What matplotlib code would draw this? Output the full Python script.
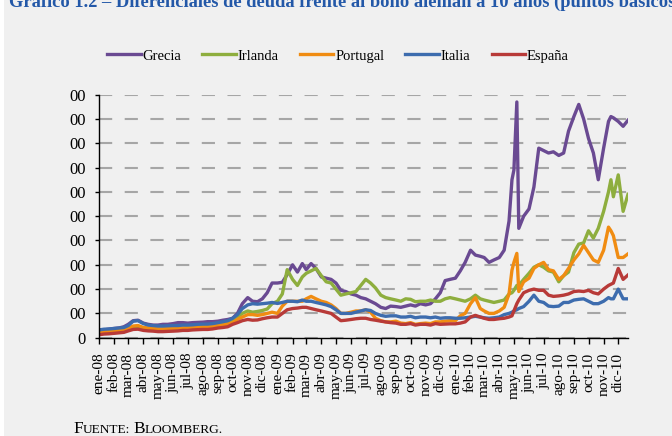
import matplotlib
matplotlib.use('Agg')
import matplotlib.pyplot as plt
import pandas as pd

plt.rcParams['font.family'] = ['Liberation Serif', 'DejaVu Serif']
plt.rcParams['lines.scale_dashes'] = False

# fechas de lectura (1, 11 y 21 de cada mes, más algunos días sueltos en 2010)
fechas_2008 = ('2008-01-01 2008-01-11 2008-01-21 2008-02-01 2008-02-11 2008-02-21 '
               '2008-03-01 2008-03-11 2008-03-21 2008-04-01 2008-04-11 2008-04-21 '
               '2008-05-01 2008-05-11 2008-05-21 2008-06-01 2008-06-11 2008-06-21 '
               '2008-07-01 2008-07-11 2008-07-21 2008-08-01 2008-08-11 2008-08-21 '
               '2008-09-01 2008-09-11 2008-09-21 2008-10-01 2008-10-11 2008-10-21 '
               '2008-11-01 2008-11-11 2008-11-21 2008-12-01 2008-12-11 2008-12-21').split()
fechas_2009 = ('2009-01-01 2009-01-11 2009-01-21 2009-02-01 2009-02-11 2009-02-21 '
               '2009-03-01 2009-03-11 2009-03-21 2009-04-01 2009-04-11 2009-04-21 '
               '2009-05-01 2009-05-11 2009-05-21 2009-06-01 2009-06-11 2009-06-21 '
               '2009-07-01 2009-07-11 2009-07-21 2009-08-01 2009-08-11 2009-08-21 '
               '2009-09-01 2009-09-11 2009-09-21 2009-10-01 2009-10-11 2009-10-21 '
               '2009-11-01 2009-11-11 2009-11-21 2009-12-01 2009-12-11 2009-12-21').split()
fechas_2010 = ('2010-01-01 2010-01-11 2010-01-21 2010-02-01 2010-02-11 2010-02-21 '
               '2010-03-01 2010-03-11 2010-03-21 2010-04-01 2010-04-11 2010-04-21 2010-04-27 '
               '2010-05-01 2010-05-07 2010-05-11 2010-05-21 2010-06-01 2010-06-11 2010-06-21 '
               '2010-07-01 2010-07-11 2010-07-21 2010-08-01 2010-08-11 2010-08-21 '
               '2010-09-01 2010-09-11 2010-09-21 2010-10-01 2010-10-11 2010-10-21 '
               '2010-11-01 2010-11-11 2010-11-16 2010-11-21 2010-12-01 2010-12-11 2010-12-21').split()

grecia = [30, 32, 35, 38, 40, 45, 55, 70, 72, 60, 55, 52, 52, 55, 55, 58, 62, 62,
          60, 62, 63, 64, 66, 66, 68, 72, 75, 80, 100, 140, 165, 150, 148, 160, 185, 225,
          225, 228, 260, 300, 270, 305, 280, 305, 285, 250, 245, 240, 225, 195, 190, 180, 175, 165,
          160, 150, 140, 125, 120, 130, 128, 125, 130, 135, 130, 140, 135, 140, 160, 185, 235, 240,
          245, 275, 310, 360, 340, 335, 330, 310, 320, 330, 360, 480, 650,
          690, 970, 450, 500, 530, 620, 780, 770, 760, 765, 750, 760, 850,
          910, 960, 900, 820, 760, 650, 780, 890, 910, 905, 890, 870, 895]
irlanda = [20, 22, 24, 26, 28, 30, 36, 45, 46, 40, 38, 36, 35, 36, 37, 38, 40, 40,
           42, 42, 44, 46, 48, 48, 52, 58, 62, 70, 85, 100, 110, 105, 108, 112, 118, 140,
           150, 180, 280, 240, 215, 250, 265, 275, 285, 255, 230, 225, 200, 175, 180, 185, 190, 215,
           240, 225, 205, 175, 165, 160, 155, 150, 160, 158, 148, 150, 150, 155, 150, 150, 160, 165,
           160, 155, 150, 160, 175, 160, 155, 150, 145, 150, 155, 180, 185,
           195, 215, 215, 240, 265, 290, 300, 290, 275, 270, 230, 255, 270,
           350, 385, 390, 440, 410, 450, 520, 600, 650, 580, 670, 520, 590]
portugal = [22, 25, 27, 28, 30, 32, 38, 48, 50, 42, 40, 38, 36, 36, 38, 38, 40, 40,
            40, 42, 42, 44, 45, 46, 50, 52, 56, 62, 75, 85, 95, 95, 92, 95, 100, 105,
            100, 130, 150, 150, 150, 150, 160, 170, 160, 150, 145, 135, 120, 100, 100, 105, 110, 110,
            115, 105, 80, 70, 65, 65, 68, 60, 58, 62, 55, 58, 60, 58, 65, 65, 68, 70,
            70, 90, 100, 140, 165, 120, 110, 100, 100, 110, 125, 180, 278,
            310, 347, 190, 230, 245, 285, 300, 310, 280, 275, 240, 255, 285,
            320, 345, 380, 350, 320, 310, 360, 455, 440, 420, 330, 330, 345]
italia = [32, 35, 36, 38, 40, 42, 50, 68, 70, 58, 52, 50, 48, 48, 49, 50, 50, 52,
          52, 53, 55, 56, 56, 58, 62, 66, 70, 80, 95, 120, 135, 140, 138, 140, 142, 145,
          141, 145, 150, 150, 148, 155, 150, 150, 145, 140, 135, 128, 115, 100, 100, 100, 105, 110,
          115, 112, 100, 92, 88, 90, 90, 85, 85, 88, 82, 85, 85, 82, 85, 80, 82, 82,
          80, 80, 82, 85, 88, 85, 82, 80, 82, 85, 95, 100, 105,
          110, 115, 120, 128, 150, 175, 150, 145, 130, 128, 130, 145, 145,
          155, 158, 160, 150, 140, 140, 150, 165, 160, 160, 200, 160, 160]
espana = [12, 15, 16, 18, 20, 22, 28, 34, 35, 30, 28, 27, 25, 25, 26, 27, 28, 30,
          30, 32, 33, 34, 34, 36, 40, 42, 45, 55, 62, 70, 75, 72, 73, 78, 82, 85,
          85, 100, 115, 120, 122, 125, 125, 120, 115, 110, 105, 100, 85, 70, 72, 75, 78, 80,
          80, 75, 72, 68, 65, 62, 60, 55, 55, 58, 52, 55, 55, 52, 58, 55, 56, 57,
          57, 60, 65, 85, 92, 85, 80, 75, 75, 78, 80, 85, 90,
          110, 140, 155, 185, 195, 200, 195, 195, 175, 170, 172, 175, 180,
          190, 192, 190, 195, 185, 180, 200, 215, 220, 225, 285, 240, 258]

series = ['Grecia', 'Irlanda', 'Portugal', 'Italia', 'España']
colores = ['#6a4a92', '#8eae3e', '#f08c12', '#3d6cae', '#b83a38']
meses = ['ene', 'feb', 'mar', 'abr', 'may', 'jun', 'jul', 'ago', 'sep', 'oct', 'nov', 'dic']
etiquetas_y = ['0', '00', '00', '00', '00', '00', '00', '00', '00', '00', '00']

fechas = pd.to_datetime(fechas_2008 + fechas_2009 + fechas_2010)
valores = [grecia, irlanda, portugal, italia, espana]

W, H = 672, 436
fig = plt.figure(figsize=(W / 100, H / 100), dpi=100, facecolor='#f0f0f0')
ax = fig.add_axes([99 / W, 1 - 337.7 / H, (628 - 99) / W, (337.7 - 94.7) / H])
ax.set_facecolor('#f0f0f0')

for nombre, vals, col in zip(series, valores, colores):
    ax.plot(fechas, vals, color=col, lw=2.4, label=nombre, solid_joinstyle='round')

ax.set_xlim(fechas[0], fechas[-1])
ax.set_ylim(0, 1000)
ax.set_yticks(range(0, 1001, 100))
ax.set_yticklabels(etiquetas_y)
ax.yaxis.grid(True, color='#a6a6a6', lw=1.5, linestyle=(0, (9.5, 9)))
ax.set_axisbelow(True)

meses_ticks = pd.date_range('2008-01-01', '2010-12-01', freq='MS')
ax.set_xticks(meses_ticks)
ax.set_xticklabels(['%s-%02d' % (meses[d.month - 1], d.year % 100) for d in meses_ticks],
                   rotation=90, va='top', ha='center')

for s in ['top', 'right']:
    ax.spines[s].set_visible(False)
for s in ['left', 'bottom']:
    ax.spines[s].set_color('black')
    ax.spines[s].set_linewidth(1.0)
ax.tick_params(axis='y', direction='out', length=3, width=1, pad=6.5, labelsize=12)
ax.tick_params(axis='x', direction='out', length=4.3, width=1, pad=6.5, labelsize=11)

fig.legend(loc='center', bbox_to_anchor=(338 / W, 1 - 56 / H), ncol=5, frameon=False,
           fontsize=10.5, handlelength=2.3, handletextpad=0.12, columnspacing=1.45)

# titulo recortado arriba, como en el original
fig.text(9 / W, 1 - 6.5 / H,
         'Gráfico 1.2 \u2013 Diferenciales de deuda frente al bono alemán a 10 años (puntos básicos)',
         color='#2358a8', fontsize=13.3, fontweight='bold', va='baseline')

# fuente en versalitas
fig.canvas.draw()
r = fig.canvas.get_renderer()
x = 73
for txt, tam in [('F', 12.4), ('UENTE:', 9.6), (' ', 9.6), ('B', 12.4), ('LOOMBERG.', 9.6)]:
    t = fig.text(x / W, 1 - 433 / H, txt, fontsize=tam, va='baseline', color='black')
    x += t.get_window_extent(renderer=r).width

fig.add_artist(plt.Rectangle((0, 0), 4 / W, 1, transform=fig.transFigure,
                             facecolor='white', edgecolor='none'))

fig.savefig('out.png', dpi=100, facecolor=fig.get_facecolor())
